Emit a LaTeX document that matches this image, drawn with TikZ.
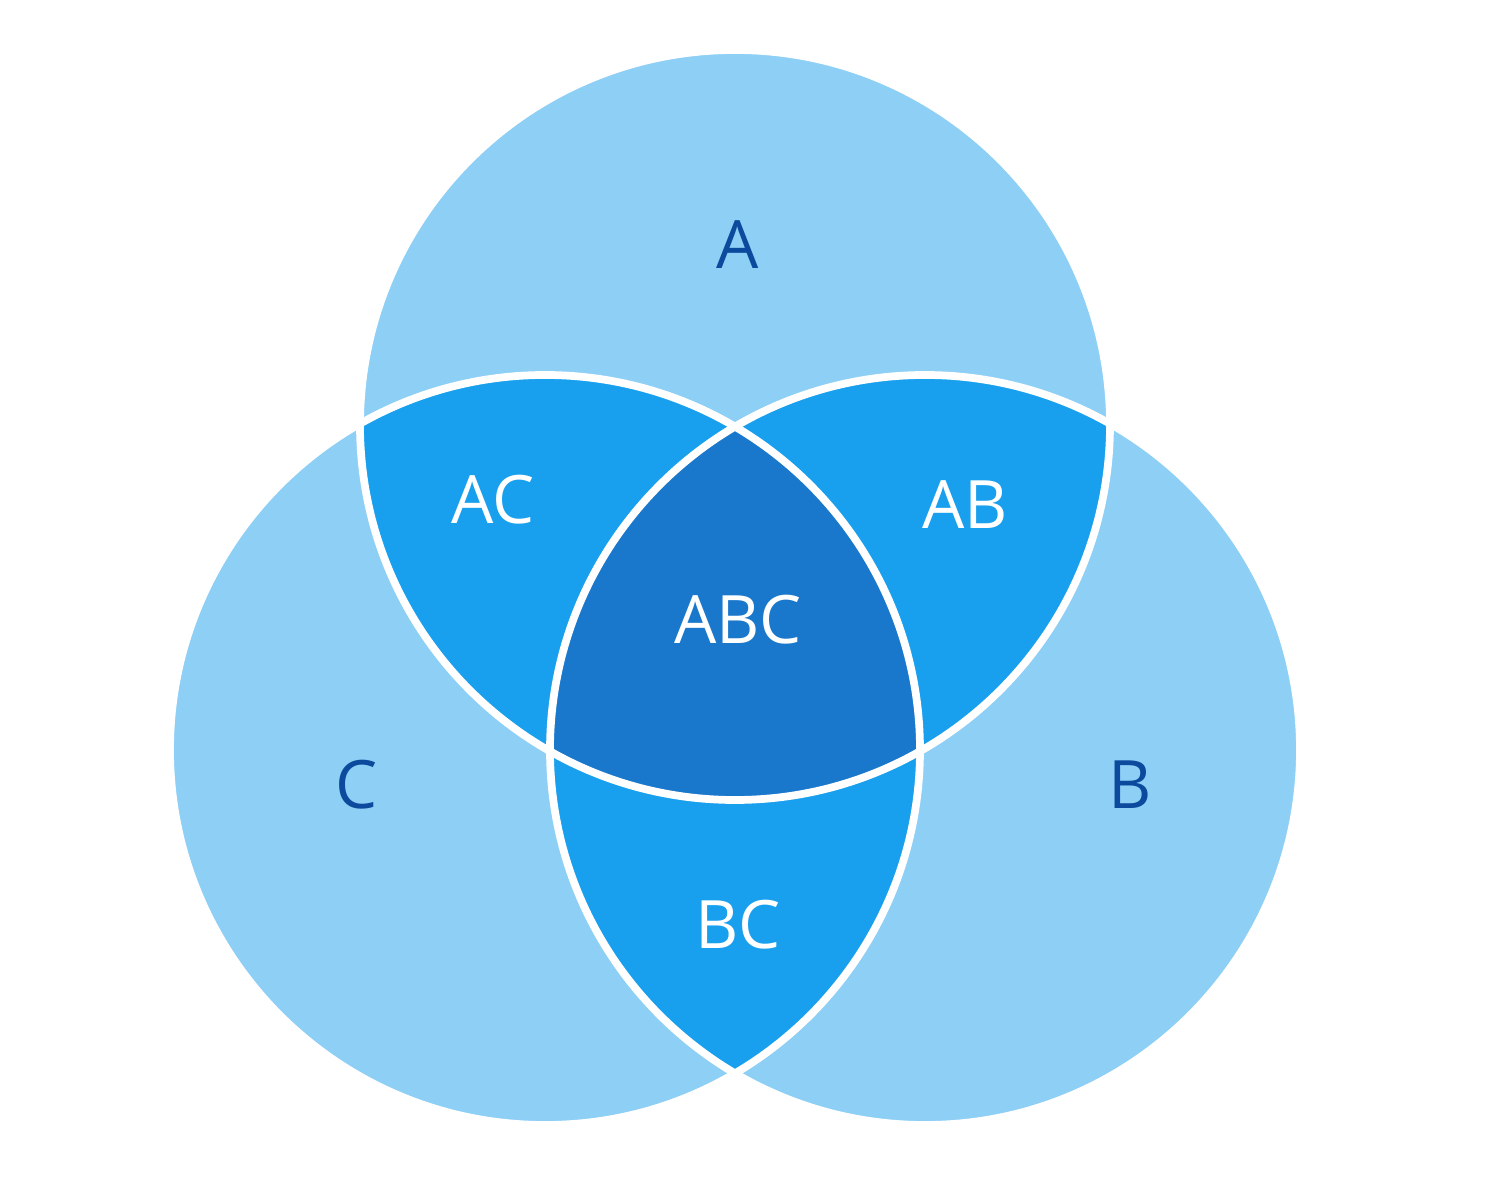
\documentclass[tikz,border=0pt]{standalone}
\usepackage{fontspec}
\setmainfont{Open Sans}
\definecolor{lightblue}{HTML}{8ECFF6}
\definecolor{midblue}{HTML}{18A0EE}
\definecolor{darkblue}{HTML}{1A78CC}
\definecolor{labelblue}{HTML}{0B4A9C}
\begin{document}
\begin{tikzpicture}[
    outer/.style={text=labelblue,font=\fontsize{19}{22}\selectfont},
    inner/.style={text=white,font=\fontsize{19}{22}\selectfont}]
	\useasboundingbox (0,0) rectangle (15,12);
	\def\rad{3.75}
	\coordinate (ca) at (7.35,7.75);
	\coordinate (cb) at (9.25,4.5);
	\coordinate (cc) at (5.45,4.5);
	% single circles
	\fill [lightblue] (ca) circle (\rad);
	\fill [lightblue] (cb) circle (\rad);
	\fill [lightblue] (cc) circle (\rad);
	% pairwise overlaps
	\begin{scope}
		\clip (ca) circle (\rad);
		\fill [midblue] (cb) circle (\rad);
		\fill [midblue] (cc) circle (\rad);
	\end{scope}
	\begin{scope}
		\clip (cb) circle (\rad);
		\fill [midblue] (cc) circle (\rad);
	\end{scope}
	% triple overlap
	\begin{scope}
		\clip (ca) circle (\rad);
		\clip (cb) circle (\rad);
		\fill [darkblue] (cc) circle (\rad);
	\end{scope}
	% white borders
	\draw [white,line width=2.2pt] (ca) circle (\rad);
	\draw [white,line width=2.2pt] (cb) circle (\rad);
	\draw [white,line width=2.2pt] (cc) circle (\rad);
	% labels
	\node [outer] (a) at (7.38,9.55) {A};
	\node [outer] (b) at (11.3,4.15) {B};
	\node [outer] (c) at (3.57,4.15) {C};
	\node [inner] (ac) at (4.93,7.0) {AC};
	\node [inner] (ab) at (9.65,6.95) {AB};
	\node [inner] (abc) at (7.38,5.8) {ABC};
	\node [inner] (bc) at (7.38,2.75) {BC};
\end{tikzpicture}
\end{document}
